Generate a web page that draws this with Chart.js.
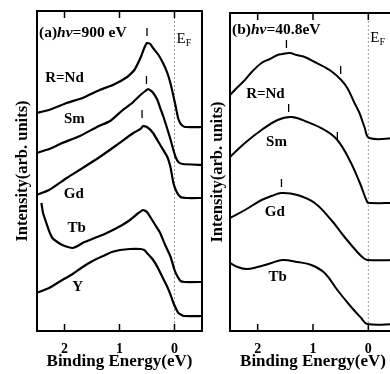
<!DOCTYPE html>
<html>
<head>
<meta charset="utf-8">
<script src="https://cdn.jsdelivr.net/npm/chart.js@4.4.1/dist/chart.umd.min.js"></script>
<style>
  html, body { margin: 0; padding: 0; background: #fff; }
  #wrap { position: relative; width: 390px; height: 374px; overflow: hidden; }
  #ca { position: absolute; left: 0; top: 0; }
  #cb { position: absolute; left: 205px; top: 0; }
</style>
</head>
<body>
<div id="wrap">
  <canvas id="ca" width="210" height="374"></canvas>
  <canvas id="cb" width="200" height="374"></canvas>
</div>
<script>
// binding energy (eV) ticks
const energyTicks = [2, 1, 0];

// (a) hv = 900 eV : [binding energy, intensity]
const ndA = [[2.51,218],[2.28,221],[1.96,228],[1.67,233],[1.36,241],[1.12,246],[0.86,254],[0.73,261],[0.62,273],[0.55,283],[0.50,288],[0.44,287],[0.39,283],[0.29,276],[0.20,267],[0.13,258],[0.07,247],[0.02,235],[-0.02,225],[-0.07,212],[-0.13,206],[-0.20,204],[-0.51,204]];
const smA = [[2.51,178],[2.28,182],[2.04,188],[1.72,195],[1.41,204],[1.17,210],[0.94,221],[0.77,228],[0.62,236],[0.53,240],[0.48,242],[0.40,239],[0.31,231],[0.26,223],[0.20,214],[0.13,202],[0.07,191],[0.02,181],[-0.02,174],[-0.07,169],[-0.15,167],[-0.51,166]];
const gdA = [[2.51,136],[2.28,141],[1.96,153],[1.67,163],[1.36,174],[1.05,186],[0.75,198],[0.62,202],[0.57,205],[0.50,204],[0.39,198],[0.26,186],[0.13,174],[0.07,163],[0.02,148],[-0.04,139],[-0.11,134],[-0.22,133],[-0.51,133]];
const tbA = [[2.42,128],[2.39,118],[2.33,108],[2.28,100],[2.22,93],[2.13,89],[2.04,86],[1.94,84],[1.85,83],[1.76,85],[1.67,88],[1.54,91],[1.41,94],[1.27,97],[1.12,101],[0.95,106],[0.81,111],[0.68,117],[0.57,121],[0.50,119],[0.44,114],[0.35,106],[0.26,98],[0.17,86],[0.07,74],[0.00,61],[-0.06,54],[-0.11,50],[-0.18,49],[-0.51,49]];
const yA = [[2.51,38],[2.28,43],[2.04,51],[1.85,57],[1.67,64],[1.49,70],[1.30,75],[1.14,79],[0.99,81],[0.81,82],[0.62,82],[0.55,81],[0.50,78],[0.40,72],[0.31,64],[0.22,54],[0.13,44],[0.07,36],[0.02,28],[-0.04,21],[-0.07,18],[-0.17,15],[-0.51,15]];
const peaksA = [[0.50,299],[0.51,251],[0.59,217]];
const namesA = ['R=Nd', 'Sm', 'Gd', 'Tb', 'Y'];
const nameSpotsA = [[2.0,253],[1.82,212],[1.83,137],[1.78,103],[1.76,44]];

// (b) hv = 40.8 eV
const ndB = [[2.50,236],[2.36,244],[2.23,251],[2.09,260],[1.93,268],[1.78,272],[1.64,276],[1.55,277],[1.42,278],[1.30,276],[1.15,274],[0.97,269],[0.79,264],[0.65,259],[0.49,251],[0.38,243],[0.25,228],[0.16,218],[0.07,204],[-0.02,193],[-0.50,193]];
const smB = [[2.50,174],[2.23,188],[1.93,201],[1.64,211],[1.39,214],[1.10,209],[0.79,201],[0.56,191],[0.34,171],[0.16,149],[0.02,129],[-0.02,128],[-0.50,128]];
const gdB = [[2.50,113],[2.23,121],[1.93,131],[1.75,135],[1.57,138],[1.28,136],[0.97,128],[0.67,111],[0.43,94],[0.20,79],[0.09,73],[0.02,71],[-0.50,71]];
const tbB = [[2.50,68],[2.36,64],[2.20,62],[2.00,64],[1.75,68],[1.55,71],[1.28,69],[1.03,66],[0.79,58],[0.56,41],[0.31,24],[0.13,13],[0.02,7],[-0.50,7]];
const peaksB = [[1.48,287],[0.50,261],[1.44,223],[0.56,195],[1.57,148]];
const namesB = ['R=Nd', 'Sm', 'Gd', 'Tb'];
const nameSpotsB = [[1.86,237],[1.66,189],[1.69,119],[1.64,54]];

const SERIF = '"Liberation Serif", "DejaVu Serif", serif';
const pts = arr => arr.map(p => ({ x: p[0], y: p[1] }));

const framePlugin = {
  id: 'frame',
  afterDatasetsDraw(chart, args, o) {
    const { ctx, chartArea: ca } = chart;
    const x = chart.scales.x, y = chart.scales.y;
    ctx.save();
    ctx.strokeStyle = '#000';
    ctx.lineWidth = 2;
    ctx.strokeRect(ca.left, ca.top, ca.right - ca.left, ca.bottom - ca.top);
    ctx.lineWidth = 1.5;
    energyTicks.forEach(v => {
      const px = x.getPixelForValue(v);
      ctx.beginPath();
      ctx.moveTo(px, ca.bottom); ctx.lineTo(px, ca.bottom - 7);
      ctx.moveTo(px, ca.top); ctx.lineTo(px, ca.top + 7);
      ctx.stroke();
    });
    ctx.fillStyle = '#000';
    ctx.font = 'bold 15px ' + SERIF;
    ctx.textAlign = 'center';
    ctx.textBaseline = 'middle';
    o.names.forEach((n, i) => {
      ctx.fillText(n, x.getPixelForValue(o.spots[i][0]), y.getPixelForValue(o.spots[i][1]));
    });
    // panel title
    ctx.textAlign = 'left';
    ctx.textBaseline = 'alphabetic';
    let tx = ca.left + 2;
    o.title.forEach(([s, st]) => {
      ctx.font = st + ' 15.5px ' + SERIF;
      ctx.fillText(s, tx, ca.top + o.titleDy);
      tx += ctx.measureText(s).width;
    });
    // Fermi level label
    const ex = x.getPixelForValue(0) + 2;
    ctx.font = '15px ' + SERIF;
    ctx.fillText('E', ex, ca.top + o.efDy);
    const w = ctx.measureText('E').width;
    ctx.font = '10px ' + SERIF;
    ctx.fillText('F', ex + w, ca.top + o.efDy + 3);
    ctx.restore();
  }
};

function makePanel(id, series, peaks, names, spots, title, ymax, yw, pad, ytitlePad, titleDy, efDy, tension, lw) {
  const datasets = series.map(s => ({
    data: pts(s),
    borderColor: '#000',
    borderWidth: lw,
    pointRadius: 0,
    tension: tension
  }));
  datasets.push({
    data: pts(peaks),
    showLine: false,
    pointStyle: 'line',
    rotation: 90,
    pointRadius: 4,
    borderColor: '#000',
    borderWidth: 1.3
  });
  datasets.push({
    data: [{ x: 0, y: 0 }, { x: 0, y: ymax }],
    borderColor: '#9a9a9a',
    borderWidth: 1,
    borderDash: [2, 2],
    pointRadius: 0
  });
  return new Chart(document.getElementById(id), {
    type: 'line',
    data: { datasets: datasets },
    options: {
      responsive: false,
      animation: false,
      layout: { padding: pad },
      plugins: {
        legend: { display: false },
        tooltip: { enabled: false },
        frame: { names: names, spots: spots, title: title, titleDy: titleDy, efDy: efDy }
      },
      scales: {
        x: {
          type: 'linear',
          reverse: true,
          min: -0.5,
          max: 2.5,
          afterBuildTicks: s => { s.ticks = energyTicks.map(v => ({ value: v })); },
          afterFit: s => { s.height = 43; },
          grid: { display: false, drawTicks: false },
          border: { display: false },
          ticks: { color: '#000', padding: 10, font: { family: SERIF, size: 14, weight: 'bold' } },
          title: {
            display: true,
            text: 'Binding Energy(eV)',
            color: '#000',
            padding: { top: 0, bottom: 2 },
            font: { family: SERIF, size: 17, weight: 'bold' }
          }
        },
        y: {
          min: 0,
          max: ymax,
          afterFit: s => { s.width = yw; },
          grid: { display: false, drawTicks: false },
          border: { display: false },
          ticks: { display: false },
          title: {
            display: true,
            text: 'Intensity(arb. units)',
            color: '#000',
            padding: { top: ytitlePad, bottom: 0 },
            font: { family: SERIF, size: 16.5, weight: 'bold', lineHeight: 1 }
          }
        }
      }
    },
    plugins: [framePlugin]
  });
}

makePanel('ca', [ndA, smA, gdA, tbA, yA], peaksA, namesA, nameSpotsA,
  [['(a)', 'bold'], ['hν', 'italic bold'], ['=900 eV', 'bold']],
  320, 37, { left: 0, top: 11, right: 8, bottom: 0 }, 14, 26, 32, 0.15, 2.2);

makePanel('cb', [ndB, smB, gdB, tbB], peaksB, namesB, nameSpotsB,
  [['(b)', 'bold'], ['hν', 'italic bold'], ['=40.8eV', 'bold']],
  318, 25, { left: 0, top: 13, right: 9, bottom: 0 }, 4, 21, 29, 0.4, 2);
</script>
</body>
</html>
